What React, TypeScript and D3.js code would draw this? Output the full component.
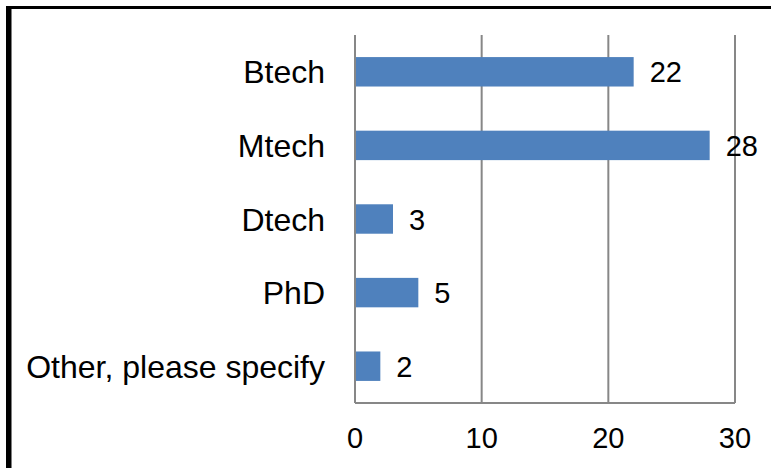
import React from "react";
import * as d3 from "d3";

const categories = ["Btech", "Mtech", "Dtech", "PhD", "Other, please specify"];
const values = [22, 28, 3, 5, 2];
const xTicks = [0, 10, 20, 30];

const W = 771;
const H = 468;
const margin = { left: 355, right: 36, top: 35, bottom: 65 };

export default function App() {
  const x = d3.scaleLinear().domain([0, 30]).range([margin.left, W - margin.right]);
  const y = d3
    .scaleBand<string>()
    .domain(categories)
    .range([margin.top, H - margin.bottom])
    .paddingInner(0.6)
    .paddingOuter(0.3);
  const bottom = H - margin.bottom;
  const font = "Liberation Sans, Arial, sans-serif";
  return (
    <svg
      width={W}
      height={H}
      style={{ position: "absolute", left: 0, top: 0, background: "#fff" }}
    >
      <rect x={0} y={0} width={W} height={H} fill="#fff" />
      {/* frame */}
      <line x1={6} x2={W} y1={7.5} y2={7.5} stroke="#000" strokeWidth={3} />
      <line x1={8.75} x2={8.75} y1={6} y2={H} stroke="#000" strokeWidth={5.5} />
      {/* gridlines */}
      {xTicks.map((t) => (
        <line
          key={t}
          x1={x(t)}
          x2={x(t)}
          y1={margin.top}
          y2={bottom}
          stroke="#878787"
          strokeWidth={2}
        />
      ))}
      <line x1={x(0)} x2={x(30)} y1={bottom} y2={bottom} stroke="#878787" strokeWidth={2} />
      {/* bars */}
      {categories.map((c, i) => (
        <rect
          key={c}
          x={x(0) + 1}
          y={y(c)}
          width={x(values[i]) - x(0) - 1}
          height={y.bandwidth()}
          fill="#4F81BD"
        />
      ))}
      {/* value labels */}
      {categories.map((c, i) => (
        <text
          key={c}
          x={x(values[i]) + 16}
          y={(y(c) as number) + y.bandwidth() / 2 + 10.5}
          fontFamily={font}
          fontSize={29}
          fill="#000"
        >
          {values[i]}
        </text>
      ))}
      {/* category labels */}
      {categories.map((c) => (
        <text
          key={c}
          x={x(0) - 30}
          y={(y(c) as number) + y.bandwidth() / 2 + 11.5}
          textAnchor="end"
          fontFamily={font}
          fontSize={32}
          fill="#000"
        >
          {c}
        </text>
      ))}
      {/* tick labels */}
      {xTicks.map((t) => (
        <text
          key={t}
          x={x(t)}
          y={bottom + 45}
          textAnchor="middle"
          fontFamily={font}
          fontSize={29}
          fill="#000"
        >
          {t}
        </text>
      ))}
    </svg>
  );
}
